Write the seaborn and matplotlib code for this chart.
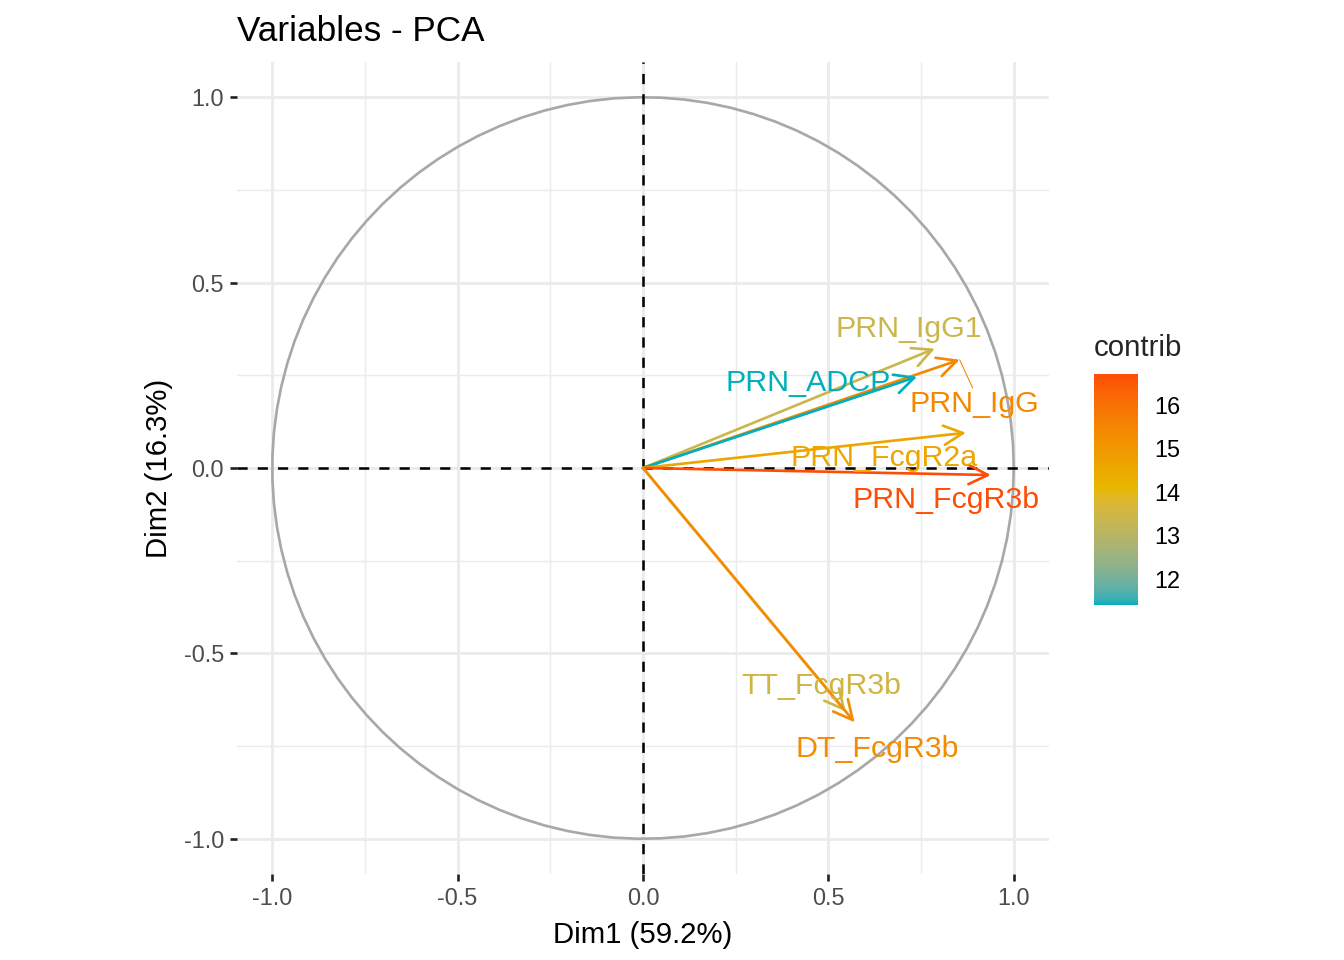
import numpy as np
import matplotlib
matplotlib.use("Agg")
import matplotlib.pyplot as plt
import matplotlib as mpl
import seaborn as sns
import pandas as pd

# variable coordinates on Dim1 / Dim2, and contribution (%)
variables = ['PRN_IgG1', 'PRN_IgG', 'PRN_ADCP', 'PRN_FcgR2a', 'PRN_FcgR3b', 'TT_FcgR3b', 'DT_FcgR3b']
dim1 = [0.787, 0.854, 0.739, 0.871, 0.938, 0.547, 0.571]
dim2 = [0.322, 0.292, 0.246, 0.095, -0.019, -0.657, -0.686]
contrib = [13.4, 15.4, 11.4, 14.6, 16.7, 13.5, 15.3]

# where the (repelled) labels ended up
label_x = [0.717, 0.895, 0.445, 0.650, 0.817, 0.482, 0.633]
label_y = [0.376, 0.173, 0.230, 0.027, -0.086, -0.589, -0.757]

grad_cols = ['#00AFBB', '#E7B800', '#FC4E07']


def srgb_to_lab(hexc):
    c = np.array(mpl.colors.to_rgb(hexc))
    c = np.where(c > 0.04045, ((c + 0.055) / 1.055) ** 2.4, c / 12.92)
    M = np.array([[0.4124, 0.3576, 0.1805], [0.2126, 0.7152, 0.0722], [0.0193, 0.1192, 0.9505]])
    xyz = M @ c / np.array([0.95047, 1.0, 1.08883])
    f = np.where(xyz > 0.008856, np.cbrt(xyz), 7.787 * xyz + 16 / 116)
    return np.array([116 * f[1] - 16, 500 * (f[0] - f[1]), 200 * (f[1] - f[2])])


def lab_to_srgb(lab):
    fy = (lab[0] + 16) / 116
    fx = fy + lab[1] / 500
    fz = fy - lab[2] / 200
    f = np.array([fx, fy, fz])
    xyz = np.where(f ** 3 > 0.008856, f ** 3, (f - 16 / 116) / 7.787) * np.array([0.95047, 1.0, 1.08883])
    Minv = np.linalg.inv(np.array([[0.4124, 0.3576, 0.1805], [0.2126, 0.7152, 0.0722], [0.0193, 0.1192, 0.9505]]))
    c = Minv @ xyz
    c = np.where(c > 0.0031308, 1.055 * np.clip(c, 0, None) ** (1 / 2.4) - 0.055, 12.92 * c)
    return np.clip(c, 0, 1)


# gradient interpolated in Lab like ggplot does
labs = [srgb_to_lab(c) for c in grad_cols]
cm_list = []
for t in np.linspace(0, 1, 256):
    seg = min(int(t * 2), 1)
    u = t * 2 - seg
    cm_list.append(lab_to_srgb(labs[seg] * (1 - u) + labs[seg + 1] * u))
cmap = mpl.colors.ListedColormap(cm_list)
norm = mpl.colors.Normalize(vmin=min(contrib), vmax=max(contrib))

sns.set_theme(style="white")
plt.rcParams['font.family'] = ['Liberation Sans', 'DejaVu Sans']

fig = plt.figure(figsize=(7, 5), dpi=192)
ax = fig.add_axes([237 / 1344, 1 - 874 / 960, (1049 - 237) / 1344, (874 - 62) / 960])

ax.set_xlim(-1.095, 1.095)
ax.set_ylim(-1.095, 1.095)
ax.set_xticks([-1, -0.5, 0, 0.5, 1])
ax.set_yticks([-1, -0.5, 0, 0.5, 1])
ax.set_xticks([-0.75, -0.25, 0.25, 0.75], minor=True)
ax.set_yticks([-0.75, -0.25, 0.25, 0.75], minor=True)
ax.set_xticklabels(['-1.0', '-0.5', '0.0', '0.5', '1.0'])
ax.set_yticklabels(['-1.0', '-0.5', '0.0', '0.5', '1.0'])
ax.grid(which='major', color='#EBEBEB', lw=1.07)
ax.grid(which='minor', color='#EBEBEB', lw=0.55)
ax.set_axisbelow(True)
for s in ax.spines.values():
    s.set_visible(False)
ax.tick_params(which='major', length=2.75, width=1.0, color='#222222', labelsize=8.8,
               labelcolor='#4D4D4D', pad=2.2, left=True, bottom=True)
ax.tick_params(which='minor', length=0)

# correlation circle
tt = np.linspace(0, 2 * np.pi, 100)
circ = pd.DataFrame({'x': np.cos(tt), 'y': np.sin(tt)})
sns.lineplot(data=circ, x='x', y='y', sort=False, estimator=None, color='#A8A8A8', lw=1.0, ax=ax)

ax.axhline(0, color='black', lw=0.95, ls=(0, (4, 4)), zorder=2)
ax.axvline(0, color='black', lw=0.95, ls=(0, (4, 4)), zorder=2)

for i, v in enumerate(variables):
    col = cmap(norm(contrib[i]))
    ax.annotate('', xy=(dim1[i], dim2[i]), xytext=(0, 0),
                arrowprops=dict(arrowstyle='->,head_length=0.6,head_width=0.3', color=col,
                                lw=1.0, shrinkA=0, shrinkB=0), zorder=3)

# repel segment for PRN_IgG
ax.plot([dim1[1], 0.889], [dim2[1], 0.216], color=cmap(norm(contrib[1])), lw=0.4, zorder=3)

for i, v in enumerate(variables):
    ax.text(label_x[i], label_y[i], v, color=cmap(norm(contrib[i])), fontsize=11.38,
            ha='center', va='center', zorder=4)

ax.set_xlabel('Dim1 (59.2%)', fontsize=11, color='black', labelpad=4)
ax.set_ylabel('Dim2 (16.3%)', fontsize=11, color='black', labelpad=4)
ax.set_title('Variables - PCA', fontsize=13.2, loc='left', color='black', pad=8)

# colour bar
cax = fig.add_axes([1094 / 1344, 1 - 605 / 960, 44 / 1344, 231 / 960])
sm = mpl.cm.ScalarMappable(norm=norm, cmap=cmap)
cb = fig.colorbar(sm, cax=cax)
cb.outline.set_visible(False)
cb.set_ticks([12, 13, 14, 15, 16])
cax.yaxis.set_ticks_position('both')
cax.tick_params(direction='in', color='white', length=3.4, width=0.6, labelsize=8.8,
                labelcolor='black', pad=6, left=True, right=True, labelleft=False, labelright=True)
fig.text(1094 / 1344, 1 - 348 / 960, 'contrib', fontsize=11, ha='left', va='center')

fig.savefig('out.png', dpi=192, facecolor='white')
